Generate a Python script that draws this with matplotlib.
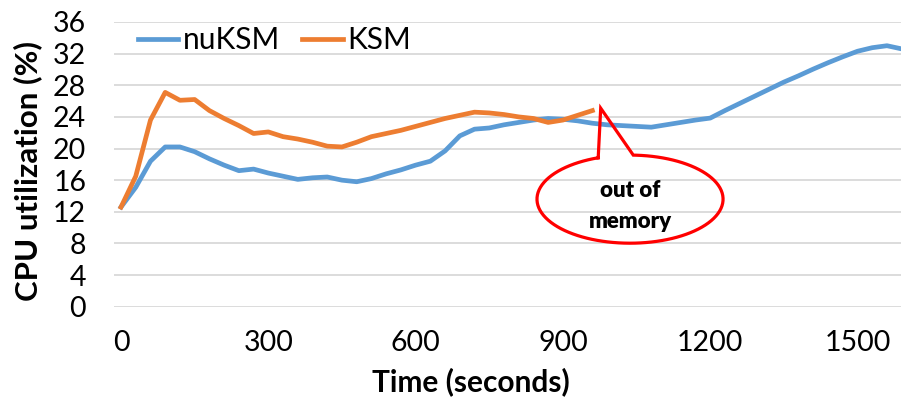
import numpy as np
import matplotlib
matplotlib.use("Agg")
import matplotlib.pyplot as plt

# Time stamps (seconds) and CPU utilization (%) for each run
time_ksm = list(range(0, 961, 30))
cpu_ksm = [12.6, 16.5, 23.6, 27.1, 26.1, 26.2, 24.8, 23.8, 22.9, 21.9, 22.1,
           21.5, 21.2, 20.8, 20.3, 20.2, 20.8, 21.5, 21.9, 22.3, 22.8, 23.3,
           23.8, 24.2, 24.6, 24.5, 24.3, 24.0, 23.8, 23.3, 23.6, 24.2, 24.8]

time_nuksm = list(range(0, 1591, 30))
cpu_nuksm = [12.6, 15.1, 18.4, 20.2, 20.2, 19.6, 18.7, 17.9, 17.2, 17.4, 16.9,
             16.5, 16.1, 16.3, 16.4, 16.0, 15.8, 16.2, 16.8, 17.3, 17.9, 18.4,
             19.7, 21.6, 22.45, 22.6, 23.0, 23.3, 23.6, 23.8, 23.7, 23.5, 23.2,
             23.0, 22.9, 22.8, 22.7, 23.0, 23.3, 23.6, 23.85, 24.8, 25.7, 26.6,
             27.5, 28.4, 29.2, 30.05, 30.85, 31.6, 32.3, 32.75, 33.0, 32.6]

x_ticks = [0, 300, 600, 900, 1200, 1500]
y_ticks = list(range(0, 37, 4))

BLUE = "#5B9BD5"
ORANGE = "#ED7D31"
FONT = "Lato"
TICK_SIZE = 20.5
LABEL_SIZE = 21.5

fig = plt.figure(figsize=(9.01, 4.01), dpi=100)
ax = fig.add_axes([114 / 901, 1 - 306.7 / 401, 1 - 114 / 901, (306.7 - 22) / 401])

ax.plot(time_nuksm, cpu_nuksm, color=BLUE, lw=3.4, label="nuKSM",
        solid_joinstyle="round", zorder=3)
ax.plot(time_ksm, cpu_ksm, color=ORANGE, lw=3.4, label="KSM",
        solid_joinstyle="round", zorder=3)

ax.set_xlim(-14.3, 1588.6)
ax.set_ylim(0, 36)
ax.set_xticks(x_ticks)
ax.set_yticks(y_ticks)
ax.grid(axis="y", color="#D9D9D9", lw=1.3)
ax.set_axisbelow(True)
for s in ax.spines.values():
    s.set_visible(False)
ax.tick_params(length=0, labelsize=TICK_SIZE)
ax.tick_params(axis="x", pad=17)
ax.tick_params(axis="y", pad=20)
for lab in ax.get_xticklabels() + ax.get_yticklabels():
    lab.set_fontfamily(FONT)

ax.set_xlabel("Time (seconds)", fontsize=LABEL_SIZE, fontweight="bold",
              fontfamily=FONT, va="center")
ax.set_ylabel("CPU utilization (%)", fontsize=22.5, fontweight="bold",
              fontfamily=FONT, va="center")
ax.xaxis.set_label_coords(0.453, (306.7 - 382) / 284.7)
ax.yaxis.set_label_coords((28 - 114) / 787, (306.7 - 171) / 284.7)

ax.legend(loc="center left", bbox_to_anchor=(0.0305, (306.7 - 40) / 284.7),
          ncol=2, frameon=False, handlelength=1.35, handletextpad=0.15,
          columnspacing=0.75, borderpad=0, borderaxespad=0,
          prop={"family": FONT, "size": LABEL_SIZE})

# Speech-bubble callout marking where KSM ran out of memory
cx, cy, a, b = 1036.7, 13.6, 189.5, 5.57
theta = np.radians(np.linspace(110, 448, 200))
ex = cx + a * np.cos(theta)
ey = cy + b * np.sin(theta)
tip = (977, 25.1)
bx = np.concatenate([ex, [tip[0], ex[0]]])
by = np.concatenate([ey, [tip[1], ey[0]]])
ax.plot(bx, by, color="red", lw=2.3, zorder=4, solid_joinstyle="miter")
ax.text(cx, 12.7, "out of\nmemory", ha="center", va="center", fontsize=16,
        fontweight="heavy", fontfamily=FONT, linespacing=1.6, zorder=5)

fig.savefig("out.png", dpi=100)
